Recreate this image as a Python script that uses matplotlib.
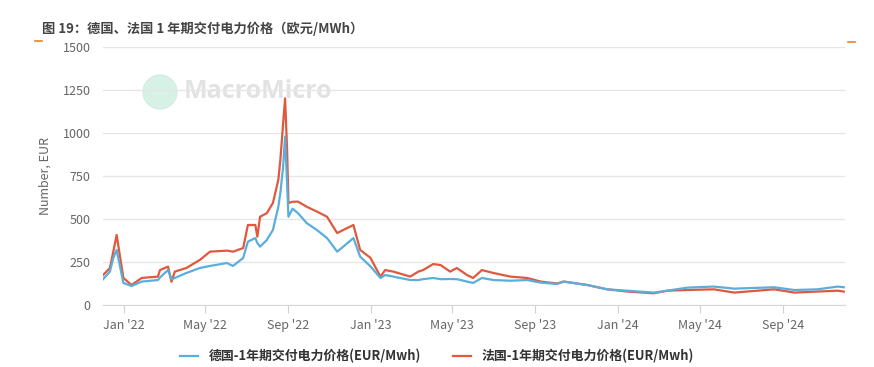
import matplotlib
matplotlib.use("Agg")
import matplotlib.pyplot as plt
from matplotlib.patches import Ellipse
import numpy as np

plt.rcParams['font.family'] = ['Noto Sans CJK SC', 'DejaVu Sans']

# data (EUR/MWh)
dates = ["2021-12-01", "2021-12-11", "2021-12-16", "2021-12-21", "2021-12-26",
         "2021-12-31", "2022-01-12", "2022-01-27", "2022-02-20", "2022-02-23",
         "2022-03-07", "2022-03-12", "2022-03-17", "2022-04-03", "2022-04-23",
         "2022-05-08", "2022-06-02", "2022-06-11", "2022-06-26", "2022-07-03",
         "2022-07-14", "2022-07-17", "2022-07-21", "2022-07-31", "2022-08-09",
         "2022-08-17", "2022-08-20", "2022-08-24", "2022-08-27", "2022-08-30",
         "2022-09-01", "2022-09-07", "2022-09-15", "2022-09-28", "2022-10-13",
         "2022-10-28", "2022-11-12", "2022-11-21", "2022-12-06", "2022-12-16",
         "2022-12-31", "2023-01-15", "2023-01-22", "2023-02-03", "2023-02-28",
         "2023-03-12", "2023-03-19", "2023-04-03", "2023-04-14", "2023-04-28",
         "2023-05-08", "2023-05-23", "2023-06-01", "2023-06-14", "2023-07-01",
         "2023-07-26", "2023-08-20", "2023-09-09", "2023-10-03", "2023-10-13",
         "2023-11-17", "2023-12-16", "2024-01-15", "2024-02-23", "2024-03-14",
         "2024-04-13", "2024-05-22", "2024-06-21", "2024-08-19", "2024-09-18",
         "2024-10-22", "2024-11-21", "2024-11-30"]
germany = [150, 194, 273, 320, 223, 128, 110, 136, 145, 160,
           203, 150, 157, 186, 215, 227, 244, 227, 273, 368,
           389, 360, 339, 378, 436, 571, 651, 800, 979, 700,
           513, 560, 534, 476, 436, 389, 310, 339, 389, 281,
           225, 157, 174, 165, 145, 145, 150, 157, 150, 151,
           150, 136, 128, 157, 145, 141, 145, 130, 122, 136,
           116, 91, 83, 72, 83, 101, 107, 95, 103, 87,
           91, 107, 103]
france = [174, 215, 310, 407, 281, 157, 116, 157, 165, 203,
          223, 135, 194, 215, 262, 310, 316, 310, 331, 465,
          465, 397, 513, 534, 593, 727, 843, 1050, 1201, 900,
          593, 600, 601, 571, 543, 513, 418, 436, 465, 320,
          275, 165, 203, 194, 165, 194, 203, 238, 232, 194,
          215, 174, 157, 203, 186, 165, 157, 136, 125, 136,
          116, 91, 78, 68, 83, 87, 91, 72, 91, 72,
          78, 83, 78]
series_labels = ["德国-1年期交付电力价格(EUR/Mwh)", "法国-1年期交付电力价格(EUR/Mwh)"]
tick_dates = ["2022-01-01", "2022-05-01", "2022-09-01", "2023-01-01", "2023-05-01",
              "2023-09-01", "2024-01-01", "2024-05-01", "2024-09-01"]
tick_labels = ["Jan '22", "May '22", "Sep '22", "Jan '23", "May '23",
               "Sep '23", "Jan '24", "May '24", "Sep '24"]
y_ticks = [0, 250, 500, 750, 1000, 1250, 1500]

x = np.array(dates, dtype="datetime64[D]")
W, H = 874, 367
fig = plt.figure(figsize=(W / 100, H / 100), dpi=100)
ax = fig.add_axes([0.118, 0.169, 0.849, 0.703])
ax.set_facecolor("none")

ax.plot(x, germany, color="#5AAEDC", lw=1.6, label=series_labels[0], zorder=3)
ax.plot(x, france, color="#E0583D", lw=1.6, label=series_labels[1], zorder=2)

ax.set_xlim(np.datetime64("2021-12-01"), np.datetime64("2024-12-02"))
ax.set_ylim(0, 1500)
ax.set_yticks(y_ticks)
ax.set_xticks(np.array(tick_dates, dtype="datetime64[D]"))
ax.set_xticklabels(tick_labels)
ax.grid(axis="y", color="#e6e6e6", lw=1)
ax.set_axisbelow(True)
for s in ["top", "right", "left"]:
    ax.spines[s].set_visible(False)
ax.spines["bottom"].set_color("#d8d8d8")
ax.tick_params(axis="y", length=0, pad=9, labelsize=9, labelcolor="#666666")
ax.tick_params(axis="x", length=6, color="#d0d0d0", pad=4, labelsize=9, labelcolor="#666666")
ax.set_ylabel("Number, EUR", fontsize=9, color="#666666", labelpad=8)

# watermark
fig.add_artist(Ellipse((160 / W, 1 - 92 / H), 34 / W, 34 / H, transform=fig.transFigure,
                       color="#cdeee2", alpha=0.8, zorder=-1))
fig.text(184 / W, 1 - 92 / H, "MacroMicro", fontsize=18, color="#e2e2e2", fontweight="bold",
         va="center", ha="left", family=["Open Sans", "DejaVu Sans"], zorder=-1)

# title and decorations
fig.text(0.048, 0.922, "图 19：德国、法国 1 年期交付电力价格（欧元/MWh）", fontsize=9.5,
         fontweight="bold", color="#444444", va="center")
fig.add_artist(plt.Line2D([0.040, 0.048], [0.888, 0.888], color="#f07d28", lw=1.2))
fig.add_artist(plt.Line2D([0.970, 0.978], [0.886, 0.886], color="#f07d28", lw=1.2))

fig.legend(loc="center", bbox_to_anchor=(0.5, 0.03), ncol=2, frameon=False,
           handlelength=1.4, columnspacing=2.5,
           prop={"weight": "bold", "size": 9.3})
for t in fig.legends[0].get_texts():
    t.set_color("#333333")

fig.savefig("out.png", dpi=100)
